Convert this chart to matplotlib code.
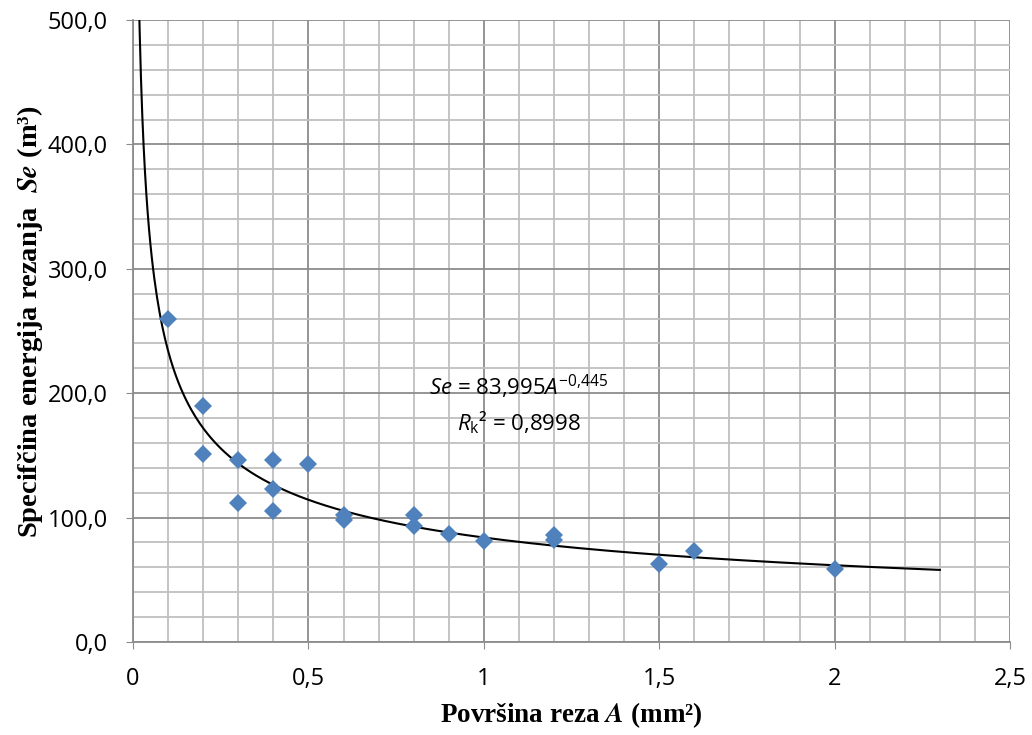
import numpy as np
import matplotlib.pyplot as plt
from matplotlib.ticker import MultipleLocator, FuncFormatter

plt.rcParams['mathtext.fontset'] = 'custom'
plt.rcParams['mathtext.rm'] = 'Open Sans'
plt.rcParams['mathtext.it'] = 'Open Sans:italic'
plt.rcParams['mathtext.bf'] = 'Open Sans:bold'

# measured points
area = [0.1, 0.2, 0.2, 0.3, 0.3, 0.4, 0.4, 0.4, 0.5, 0.6, 0.6,
        0.8, 0.8, 0.9, 1.0, 1.2, 1.2, 1.5, 1.6, 2.0]
se = [260, 190, 151, 146, 112, 146, 123, 105, 143, 102, 98,
      102, 93, 87, 81, 86, 82, 63, 73, 59]

# power trend line Se = 83.995 * A^-0.445
coef = 83.995
expo = -0.445
a_fit = np.linspace(0.015, 2.3, 600)
se_fit = coef * a_fit ** expo

fig = plt.figure(figsize=(10.32, 7.35), dpi=100)
ax = fig.add_axes([0.1289, 0.1265, 0.8498, 0.8463])

ax.plot(a_fit, se_fit, color='black', linewidth=1.5, zorder=3)
ax.plot(area, se, 'D', color='#4f81bd', markersize=9.5, markeredgewidth=0, zorder=4)

ax.set_xlim(0, 2.5)
ax.set_ylim(0, 500)
ax.xaxis.set_major_locator(MultipleLocator(0.5))
ax.xaxis.set_minor_locator(MultipleLocator(0.1))
ax.yaxis.set_major_locator(MultipleLocator(100))
ax.yaxis.set_minor_locator(MultipleLocator(20))

ax.grid(True, which='major', color='#8c8c8c', linewidth=1.3, zorder=0)
ax.grid(True, which='minor', color='#bfbfbf', linewidth=1.3, zorder=0)
ax.set_axisbelow(True)

for s in ['top', 'right']:
    ax.spines[s].set_visible(False)
for s in ['left', 'bottom']:
    ax.spines[s].set_color('#8c8c8c')
    ax.spines[s].set_linewidth(1.3)

ax.tick_params(which='major', length=5, color='#8c8c8c', labelsize=17)
ax.tick_params(axis='x', pad=13)
ax.tick_params(axis='y', pad=13)
ax.tick_params(which='minor', length=0)


def xfmt(v, pos):
    return ('%g' % v).replace('.', ',')


def yfmt(v, pos):
    return ('%.1f' % v).replace('.', ',')


ax.xaxis.set_major_formatter(FuncFormatter(xfmt))
ax.yaxis.set_major_formatter(FuncFormatter(yfmt))
for lab in ax.get_xticklabels() + ax.get_yticklabels():
    lab.set_fontfamily('Open Sans')

ax.set_xlabel(r'Površina reza $\mathbfit{A}$ (mm²)', math_fontfamily='stix',
              fontfamily='Liberation Serif', fontweight='bold', fontsize=19.5)
ax.xaxis.set_label_coords(0.5, -0.093)
ax.set_ylabel(r'Specifčina energija rezanja  $\mathbfit{Se}$ (m³)', math_fontfamily='stix',
              fontfamily='Liberation Serif', fontweight='bold', fontsize=20.5)
ax.yaxis.set_label_coords(-0.1, 0.515)

ax.text(1.1, 205, r'$\mathit{Se}$ = 83,995$\mathit{A}^{-0{,}445}$', ha='center', va='center',
        fontsize=16, fontfamily='Open Sans', zorder=5)
ax.text(1.1, 176, r'$\mathit{R}_\mathrm{k}$² = 0,8998', ha='center', va='center',
        fontsize=16, fontfamily='Open Sans', zorder=5)

fig.savefig('out.png', dpi=100)
